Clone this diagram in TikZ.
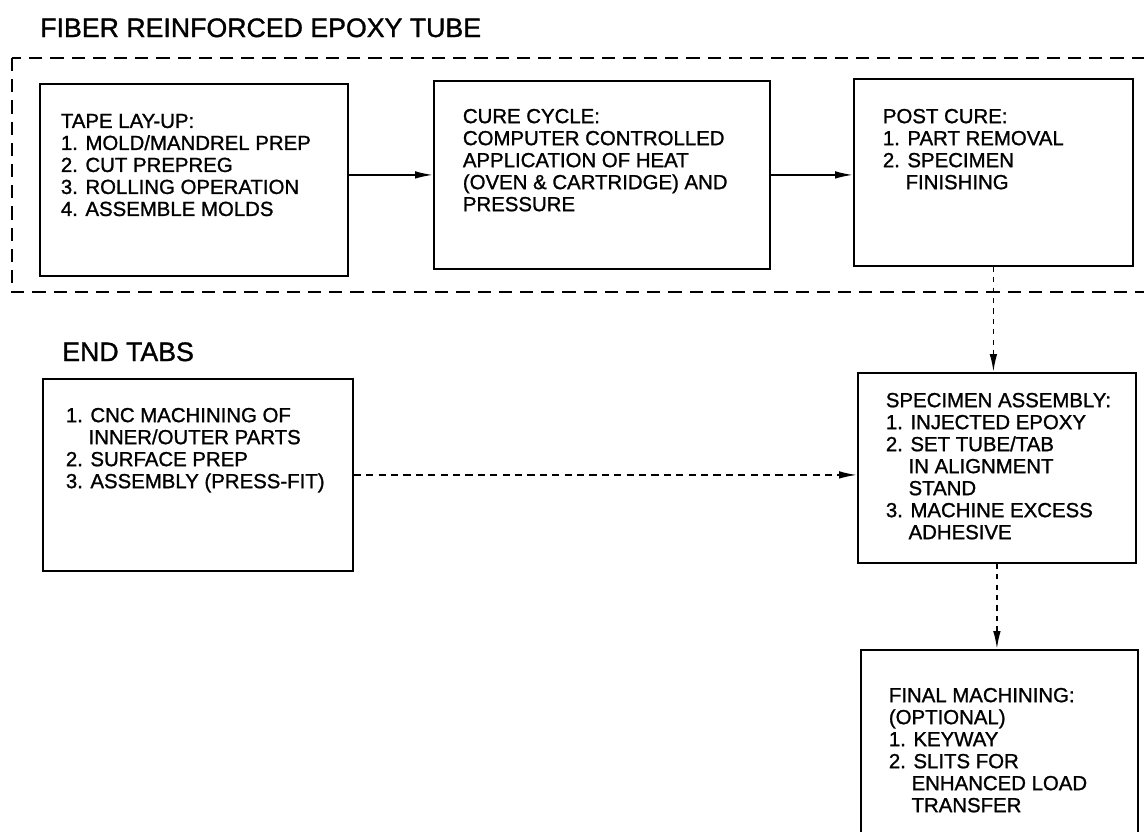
\documentclass[tikz,border=0pt]{standalone}
\usepackage{fontspec}
\setmainfont{Liberation Sans}[FakeBold=1.2]
\usepackage{tikz}
\usetikzlibrary{positioning,arrows.meta,calc}

% text block of a process box: width, height, left pad, top pad, lines
\newcommand{\boxtxt}[5]{\parbox[t][#2][t]{#1}{\raggedright\leftskip=#3\relax\vspace*{#4}#5}}
\newcommand{\cont}{\phantom{1.\ }}

\begin{document}
\begin{tikzpicture}[
  proc/.style={draw, rectangle, line width=1.3pt, anchor=north west, inner sep=0pt, font=\fontsize{14.5}{15.65}\selectfont},
  hdr/.style={anchor=base west, inner sep=0pt, font=\fontsize{19}{22}\selectfont},
  frm/.style={line width=1.3pt, dash pattern=on 3.3mm off 2mm},
  arr/.style={-{Latex[length=4.5mm,width=1.9mm]}, line width=1.2pt},
  darr/.style={arr, dash pattern=on 1.3mm off 1.3mm},
  harr/.style={arr, dash pattern=on 1.8mm off 1.3mm},
]
  \useasboundingbox (0,0) rectangle (28.6,-20.775);

  % fiber reinforced tube
  \node[hdr] (ttube) at (1.0,-0.925) {FIBER REINFORCED EPOXY TUBE};
  \draw[frm] (0.3,-1.45) rectangle (28.75,-7.3);

  \node[proc] (lay) at (0.975,-2.075) {\boxtxt{7.7cm}{4.8cm}{0.525cm}{0.75cm}{%
    TAPE LAY-UP:\\ 1. MOLD/MANDREL PREP\\ 2. CUT PREPREG\\ 3. ROLLING OPERATION\\ 4. ASSEMBLE MOLDS}};
  \node[proc] (cure) at (10.825,-2.0) {\boxtxt{8.4cm}{4.7cm}{0.725cm}{0.7cm}{%
    CURE CYCLE:\\ COMPUTER CONTROLLED\\ APPLICATION OF HEAT\\ (OVEN \& CARTRIDGE) AND\\ PRESSURE}};
  \node[proc] (post) at (21.325,-1.95) {\boxtxt{6.975cm}{4.675cm}{0.725cm}{0.75cm}{%
    POST CURE:\\ 1. PART REMOVAL\\ 2. SPECIMEN\\ \cont FINISHING}};

  % end tabs
  \node[hdr] (ttabs) at (1.55,-9.025) {END TABS};
  \node[proc] (tabs) at (1.05,-9.45) {\boxtxt{7.75cm}{4.8cm}{0.575cm}{0.725cm}{%
    1. CNC MACHINING OF\\ \cont INNER/OUTER PARTS\\ 2. SURFACE PREP\\ 3. ASSEMBLY (PRESS-FIT)}};

  % assembly and machining
  \node[proc] (spec) at (21.425,-9.3) {\boxtxt{6.95cm}{4.75cm}{0.7cm}{0.5cm}{%
    SPECIMEN ASSEMBLY:\\ 1. INJECTED EPOXY\\ 2. SET TUBE/TAB\\ \cont IN ALIGNMENT\\ \cont STAND\\ 3. MACHINE EXCESS\\ \cont ADHESIVE}};
  \node[proc] (fin) at (21.5,-16.225) {\boxtxt{6.925cm}{5.0cm}{0.7cm}{0.95cm}{%
    FINAL MACHINING:\\ (OPTIONAL)\\ 1. KEYWAY\\ 2. SLITS FOR\\ \cont ENHANCED LOAD\\ \cont TRANSFER}};

  \draw[arr] (lay.east |- cure.west) -- (cure.west);
  \draw[arr] (cure.east) -- (cure.east -| post.west);
  \draw[darr] (post.south) -- (post.south |- spec.north);
  \draw[harr] (tabs.east) -- (tabs.east -| spec.west);
  \draw[darr] (spec.south) -- (spec.south |- fin.north);
\end{tikzpicture}
\end{document}
